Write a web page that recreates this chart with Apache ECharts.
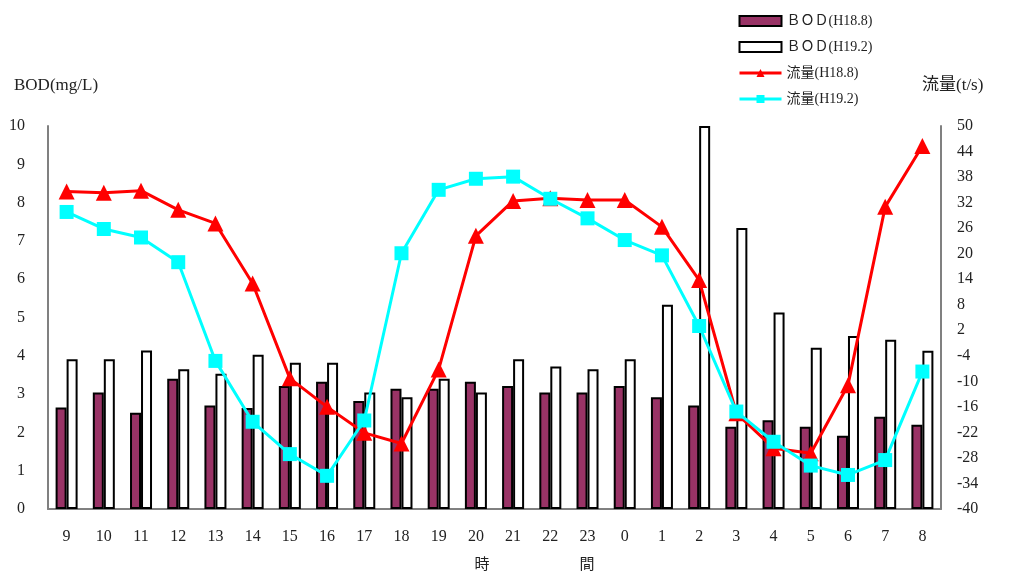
<!DOCTYPE html>
<html>
<head>
<meta charset="utf-8">
<script src="https://cdn.jsdelivr.net/npm/echarts@6/dist/echarts.min.js"></script>
<style>
  html, body { margin: 0; padding: 0; background: #fff; }
  #chart { width: 1012px; height: 572px; }
</style>
</head>
<body>
<div id="chart"></div>
<script>
// Hours of the 24-hour survey, starting at 9 o'clock
const hours = ['9','10','11','12','13','14','15','16','17','18','19','20','21','22','23','0','1','2','3','4','5','6','7','8'];

// BOD (mg/L)
const bodH18 = [2.65, 3.04, 2.51, 3.40, 2.70, 2.64, 3.21, 3.32, 2.82, 3.14, 3.14, 3.32, 3.21, 3.04, 3.04, 3.21, 2.92, 2.70, 2.15, 2.32, 2.15, 1.91, 2.41, 2.20];
const bodH19 = [3.91, 3.91, 4.14, 3.65, 3.53, 4.03, 3.82, 3.82, 3.04, 2.92, 3.40, 3.04, 3.91, 3.72, 3.65, 3.91, 5.33, 10.0, 7.34, 5.13, 4.21, 4.52, 4.42, 4.13];

// Flow (t/s)
const flowH18 = [34.6, 34.3, 34.8, 30.3, 27.1, 13.0, -9.3, -16.0, -22.1, -24.6, -7.2, 24.2, 32.4, 33.0, 32.6, 32.6, 26.3, 13.8, -17.5, -25.7, -26.9, -10.9, 31.0, 45.3];
const flowH19 = [29.8, 25.8, 23.8, 18.0, -5.2, -19.5, -27.1, -32.2, -19.2, 20.1, 35.0, 37.6, 38.1, 32.9, 28.3, 23.2, 19.6, 3.0, -17.1, -24.2, -29.8, -32.0, -28.5, -7.7];

const seriesNames = ['ＢＯＤ(H18.8)', 'ＢＯＤ(H19.2)', '流量(H18.8)', '流量(H19.2)'];

const FONT = '"Liberation Serif", "Noto Sans CJK JP", serif';
const TEXT = '#222';
const AXIS = '#808080';

const chart = echarts.init(document.getElementById('chart'), null, { renderer: 'canvas' });

chart.setOption({
  animation: false,
  backgroundColor: '#fff',
  textStyle: { fontFamily: FONT, color: TEXT },
  grid: { left: 48, right: 71, top: 126, bottom: 63, containLabel: false, outerBoundsMode: 'none' },
  legend: {
    orient: 'vertical',
    left: 733,
    top: 9,
    itemWidth: 42,
    itemHeight: 10,
    itemGap: 12,
    lineStyle: { width: 3 },
    data: [
      { name: seriesNames[0], icon: 'rect' },
      { name: seriesNames[1], icon: 'rect' },
      { name: seriesNames[2] },
      { name: seriesNames[3] }
    ],
    textStyle: { fontFamily: FONT, fontSize: 14, color: TEXT }
  },
  xAxis: {
    type: 'category',
    data: hours,
    name: '時　　　　　　間',
    nameLocation: 'middle',
    nameGap: 49,
    nameTextStyle: { fontFamily: FONT, fontSize: 15, color: TEXT, padding: [0, 0, 0, 80] },
    axisLine: { lineStyle: { color: AXIS, width: 2 } },
    axisTick: { show: false },
    axisLabel: { fontFamily: FONT, fontSize: 16, color: TEXT, margin: 20 },
    splitLine: { show: false }
  },
  yAxis: [
    {
      type: 'value',
      min: 0, max: 10, interval: 1,
      name: 'BOD(mg/L)',
      nameLocation: 'end',
      nameGap: 32,
      nameTextStyle: { fontFamily: FONT, fontSize: 17, color: TEXT, align: 'left', padding: [0, 0, 0, -34] },
      axisLine: { show: true, lineStyle: { color: AXIS, width: 2 } },
      axisTick: { show: false },
      axisLabel: { fontFamily: FONT, fontSize: 16, color: TEXT, margin: 23 },
      splitLine: { show: false }
    },
    {
      type: 'value',
      min: -40, max: 50, interval: 6,
      name: '流量(t/s)',
      nameLocation: 'end',
      nameGap: 32,
      nameTextStyle: { fontFamily: FONT, fontSize: 17, color: TEXT, align: 'left', padding: [0, 0, 0, -19] },
      axisLine: { show: true, lineStyle: { color: AXIS, width: 2 } },
      axisTick: { show: false },
      axisLabel: { fontFamily: FONT, fontSize: 16, color: TEXT, margin: 16 },
      splitLine: { show: false }
    }
  ],
  series: [
    {
      name: seriesNames[0],
      type: 'bar',
      data: bodH18,
      barWidth: 11,
      barGap: '0%',
      itemStyle: { color: '#993366', borderColor: '#000', borderWidth: 2 },
      z: 2
    },
    {
      name: seriesNames[1],
      type: 'bar',
      data: bodH19,
      barWidth: 11,
      barGap: '0%',
      itemStyle: { color: '#fff', borderColor: '#000', borderWidth: 2 },
      z: 2
    },
    {
      name: seriesNames[2],
      type: 'line',
      yAxisIndex: 1,
      data: flowH18,
      symbol: 'triangle',
      symbolSize: 16,
      lineStyle: { color: '#ff0000', width: 3 },
      itemStyle: { color: '#ff0000' },
      z: 4
    },
    {
      name: seriesNames[3],
      type: 'line',
      yAxisIndex: 1,
      data: flowH19,
      symbol: 'rect',
      symbolSize: 14,
      lineStyle: { color: '#00ffff', width: 3 },
      itemStyle: { color: '#00ffff' },
      z: 5
    }
  ]
});
</script>
</body>
</html>
